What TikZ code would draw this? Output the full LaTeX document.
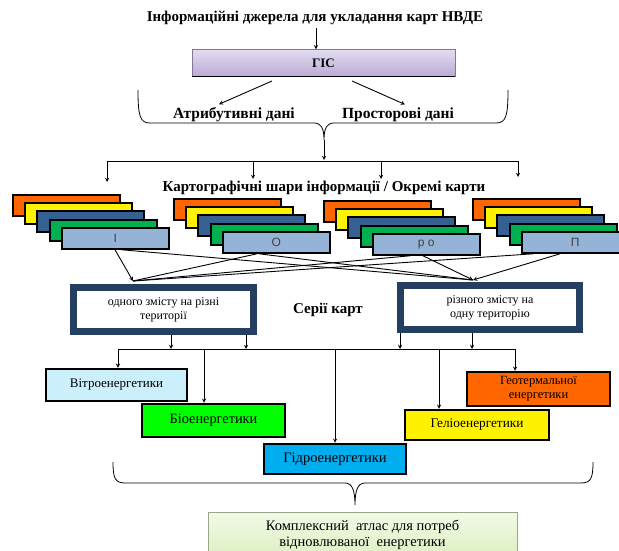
\documentclass[tikz,border=0pt]{standalone}
\usepackage{fontspec}
\setmainfont{Liberation Serif}
\newfontfamily\labfont{Liberation Sans}
\usetikzlibrary{arrows.meta}
\definecolor{navy}{HTML}{243F60}
\definecolor{lblue}{HTML}{95B3D7}
\definecolor{dblue}{HTML}{376092}
\definecolor{mgreen}{HTML}{00B050}
\definecolor{orng}{HTML}{FF6600}
\definecolor{lilac}{HTML}{E4DDF0}
\definecolor{lilacd}{HTML}{BBAAD6}
\definecolor{pgreen}{HTML}{F3F9E8}
\definecolor{pgreend}{HTML}{DCEFC0}

\begin{document}
\begin{tikzpicture}[x=1pt,y=-1pt,
    arr/.style={-stealth, line width=0.9pt},
    hd/.style={font=\fontsize{15}{17}\selectfont\bfseries},
    maplayer/.style={draw, line width=2pt, minimum width=107pt, minimum height=21pt, anchor=north west, inner sep=0pt},
    serbox/.style={draw=navy, line width=7pt, fill=white, align=center, font=\fontsize{12}{14}\selectfont},
    enbox/.style={draw, line width=2.5pt, align=center, inner sep=0pt}]
    \useasboundingbox (0,0) rectangle (619,551);

    \node[hd] (t) at (315,18) {Інформаційні джерела для укладання карт НВДЕ};
    \node[draw=lilacd!70!black, top color=lilac, bottom color=lilacd, minimum width=263pt, minimum height=27pt,
          font=\fontsize{13}{15}\selectfont\bfseries] (g) at (323.5,63) {ГІС};
    \draw[line width=1.5pt] (g.south west) -- (g.south east);
    \node[hd, font=\fontsize{15.5}{17}\selectfont\bfseries] (a1) at (234,115) {Атрибутивні дані};
    \node[hd, font=\fontsize{15.5}{17}\selectfont\bfseries] (a2) at (398,115) {Просторові дані};
    \node[hd] (k) at (324,188) {Картографічні шари інформації / Окремі карти};
    \node[hd] (s) at (328,310) {Серії карт};

    % brace under GIS data
    \draw[line width=0.8pt] (138,90) .. controls (138,116) and (140,123) .. (150,123) -- (314,123)
        .. controls (321,123) and (324,128) .. (324,140) .. controls (324,128) and (327,123) .. (334,123)
        -- (496,123) .. controls (506,123) and (508,116) .. (508,90);
    \coordinate (b1) at (324,140);
    \coordinate (ga) at (272,81);
    \coordinate (gb) at (352,81);

    \path (t.south -| 316,0) [arr] edge (g.north -| 316,0)
          (ga) [arr] edge (a1.north -| 219,0)
          (gb) [arr] edge (a2.north -| 405,0);

    % distribution to map layers
    \coordinate (h1) at (107,161);
    \coordinate (h2) at (518,161);
    \draw[line width=0.9pt] (h1) -- (h2);
    \draw[arr] (b1) -- (324,160);
    \draw[arr] (h1) -- (107,182);
    \draw[arr] (253,161) -- (253,179);
    \draw[arr] (381,161) -- (381,179);
    \draw[arr] (h2) -- (518,177);

    % stacks of map layers
    \foreach \n/\x/\y/\lab in {1/12/194/І, 2/173/198/О, 3/323/200/р о, 4/472/198/П} {
        \node[maplayer, fill=orng] at (\x,\y) {};
        \node[maplayer, fill=yellow] at (\x+12.2,\y+8.2) {};
        \node[maplayer, fill=dblue] at (\x+24.4,\y+16.4) {};
        \node[maplayer, fill=mgreen] at (\x+36.6,\y+24.6) {};
        \node[maplayer, fill=lblue, font=\labfont\fontsize{12}{14}\selectfont, text=black!75] (l\n) at (\x+48.8,\y+32.8) {\lab};
    }

    % series of maps
    \node[serbox, minimum width=180pt, minimum height=44pt] (m1) at (163.5,309.5) {одного змісту на різні\\території};
    \node[serbox, minimum width=179pt, minimum height=44pt] (m2) at (490,307.5) {різного змісту на\\одну територію};
    \coordinate (ta) at (133,281);
    \coordinate (tb) at (473,280);

    \path[line width=0.9pt]
    (l1.south -| 115,0) edge[-stealth] (ta)
    (l1.south -| 122,0) edge (tb)
    (l2.south -| 257,0) edge (ta)
    (l2.south -| 259,0) edge (tb)
    (l3.south -| 410,0) edge (ta)
    (l3.south -| 423,0) edge[-stealth] (tb)
    (l4.south -| 533,0) edge (ta)
    (l4.south -| 560,0) edge[-stealth] (tb);

    % energy boxes
    \node[enbox, fill=cyan!20, minimum width=141pt, minimum height=32pt, font=\fontsize{13}{15}\selectfont] (e1) at (116.5,385) {Вітроенергетики};
    \node[enbox, fill=green, minimum width=143pt, minimum height=33pt, font=\fontsize{14.3}{16}\selectfont] (e2) at (213.5,420.5) {Біоенергетики};
    \node[enbox, fill=cyan, minimum width=142pt, minimum height=30pt, font=\fontsize{14.5}{16}\selectfont] (e3) at (335,459) {Гідроенергетики};
    \node[enbox, fill=yellow, minimum width=144pt, minimum height=30pt, font=\fontsize{13.3}{15}\selectfont] (e4) at (477,425) {Геліоенергетики};
    \node[enbox, fill=orng, minimum width=143pt, minimum height=34pt, font=\fontsize{12.5}{14}\selectfont] (e5) at (538.5,389) {Геотермальної\\енергетики};

    \coordinate (d1) at (118,349);
    \coordinate (d2) at (515,349);
    \draw[line width=0.8pt] (d1) -- (d2);
    \draw[arr] (m1.south -| 171,0) -- (171,349);
    \draw[arr] (m1.south -| 246,0) -- (246,349);
    \draw[arr] (m2.south -| 400,0) -- (400,349);
    \draw[arr] (m2.south -| 472,0) -- (472,349);
    \draw[arr] (d1) -- (e1.north -| d1);
    \draw[arr] (204,349) -- (e2.north -| 204,0);
    \draw[arr] (335,349) -- (e3.north);
    \draw[arr] (439,349) -- (e4.north -| 439,0);
    \draw[arr] (d2) -- (e5.north -| d2);

    % brace under energy boxes
    \draw[line width=0.8pt] (113,462) .. controls (113,478) and (115,483) .. (125,483) -- (345,483)
        .. controls (352,483) and (355,490) .. (355,505) .. controls (355,490) and (358,483) .. (365,483)
        -- (581,483) .. controls (591,483) and (593,478) .. (593,462);

    \node[draw=pgreend!70!black, top color=pgreen, bottom color=pgreend, minimum width=309pt, minimum height=46pt,
          align=center, font=\fontsize{14.5}{16}\selectfont] (f) at (362.5,535) {Комплексний\ \ атлас для потреб\\відновлюваної\ \ енергетики};
\end{tikzpicture}
\end{document}
